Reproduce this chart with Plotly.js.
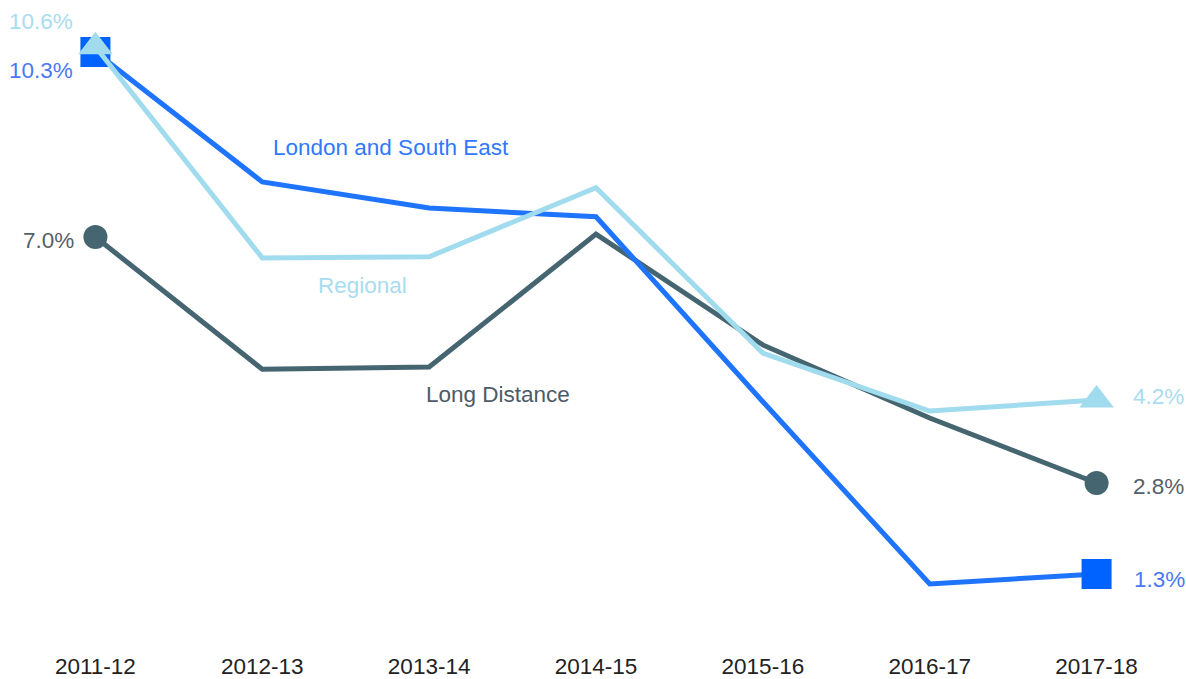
<!DOCTYPE html>
<html>
<head>
<meta charset="utf-8">
<script src="https://cdn.plot.ly/plotly-3.0.1.min.js"></script>
<style>html,body{margin:0;padding:0;background:#fff;}#chart{width:1186px;height:679px;}</style>
</head>
<body>
<div id="chart"></div>
<script>
var categories = ["2011-12","2012-13","2013-14","2014-15","2015-16","2016-17","2017-18"];
var londonSE = [10.31, 8.07, 7.62, 7.47, 4.28, 1.14, 1.31];
var regional = [10.40, 6.76, 6.78, 7.97, 5.12, 4.12, 4.31];
var longDistance = [7.12, 4.84, 4.88, 7.17, 5.26, 4.00, 2.88];
var startLabels = {london: "10.3%", regional: "10.6%", longDistance: "7.0%"};
var endLabels = {london: "1.3%", regional: "4.2%", longDistance: "2.8%"};
var seriesNames = {london: "London and South East", regional: "Regional", longDistance: "Long Distance"};

var xs = categories.map(function(c, i){ return i; });
var last = categories.length - 1;
function endSizes(s){ return xs.map(function(i){ return (i === 0 || i === last) ? s : 0; }); }

var cLondon = "#1f74fd", cLondonMk = "#0062ff";
var cRegional = "#a0dbee";
var cLong = "#456571";

function mk(symbol, size, color){
  return {symbol: symbol, size: endSizes(size), color: color, opacity: 1, line: {width: 0}};
}
var traces = [
  {x: xs, y: longDistance, mode: "lines+markers", line: {color: cLong, width: 5},
   marker: mk("circle", 24, cLong), hoverinfo: "skip", opacity: 1},
  {x: xs, y: londonSE, mode: "lines+markers", line: {color: cLondon, width: 5},
   marker: mk("square", 30, cLondonMk), hoverinfo: "skip", opacity: 1},
  {x: xs, y: regional, mode: "lines+markers", line: {color: cRegional, width: 5},
   marker: mk("triangle-up", 30, cRegional), hoverinfo: "skip", opacity: 1}
];

var fnt = "Liberation Sans, Arial, sans-serif";
var fs = 22.5;
function ann(x, y, text, color, opts){
  var a = {x: x, y: y, xref: "x", yref: "y", text: text, showarrow: false,
    font: {family: fnt, size: fs, color: color}};
  for (var k in opts) a[k] = opts[k];
  return a;
}
var annotations = [
  ann(1.77, 8.67, seriesNames.london, "#2f78ff", {}),
  ann(1.60, 6.28, seriesNames.regional, "#a8dcf0", {}),
  ann(2.41, 4.40, seriesNames.longDistance, "#4d5b66", {}),
  ann(0, regional[0], startLabels.regional, "#a8dcf0", {xanchor: "right", xshift: -20, yshift: 25}),
  ann(0, londonSE[0], startLabels.london, "#4a78f5", {xanchor: "right", xshift: -20, yshift: -18}),
  ann(0, longDistance[0], startLabels.longDistance, "#555f68", {xanchor: "right", xshift: -19, yshift: -3}),
  ann(last, regional[last], endLabels.regional, "#a8dcf0", {xanchor: "left", xshift: 34, yshift: 4}),
  ann(last, longDistance[last], endLabels.longDistance, "#555f68", {xanchor: "left", xshift: 34, yshift: -4}),
  ann(last, londonSE[last], endLabels.london, "#4a78f5", {xanchor: "left", xshift: 35, yshift: -5})
];

var layout = {
  width: 1186, height: 679,
  margin: {l: 12, r: 6, t: 12, b: 29},
  paper_bgcolor: "#fff", plot_bgcolor: "#fff",
  showlegend: false,
  xaxis: {range: [-0.5, 6.5], tickvals: xs, ticktext: categories, showgrid: false,
    zeroline: false, showline: false, ticks: "", fixedrange: true, ticklabelstandoff: 0,
    tickfont: {family: fnt, size: fs, color: "#222"}},
  yaxis: {range: [0, 11], visible: false, showgrid: false, zeroline: false, fixedrange: true},
  annotations: annotations
};

Plotly.newPlot("chart", traces, layout, {displayModeBar: false, staticPlot: true});
</script>
</body>
</html>
